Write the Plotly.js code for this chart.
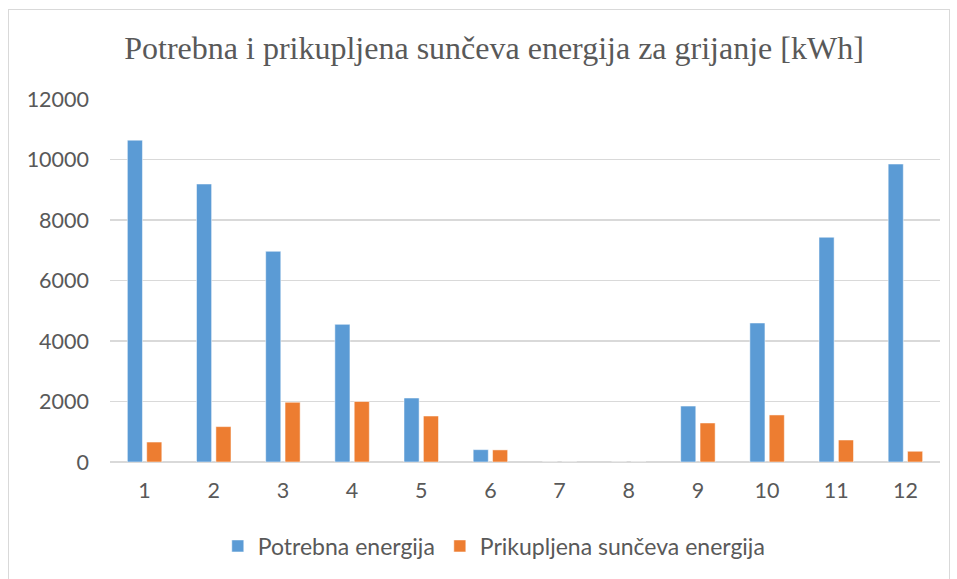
<!DOCTYPE html>
<html>
<head>
<meta charset="utf-8">
<script src="https://cdn.plot.ly/plotly-3.0.1.min.js"></script>
<style>
  html, body { margin: 0; padding: 0; background: #fff; }
  #wrap { position: relative; width: 957px; height: 579px; }
  #frame { position: absolute; left: 8px; top: 9px; width: 942px; height: 580px; border: 1px solid #d9d9d9; box-sizing: border-box; pointer-events: none; }
  #chart { width: 957px; height: 579px; }
</style>
</head>
<body>
<div id="wrap">
  <div id="chart"></div>
  <div id="frame"></div>
</div>
<script>
const months = ['1','2','3','4','5','6','7','8','9','10','11','12'];
const potrebna = [10640, 9190, 6965, 4550, 2115, 408, 0, 0, 1850, 4595, 7430, 9850];
const prikupljena = [660, 1170, 1975, 2000, 1520, 400, 0, 0, 1290, 1555, 727, 355];
const yTicks = [0, 2000, 4000, 6000, 8000, 10000, 12000];

const fontFam = 'Lato, "Liberation Sans", sans-serif';
const txtColor = '#595959';

const data = [
  { type: 'bar', name: 'Potrebna energija', x: months, y: potrebna,
    marker: { color: '#5B9BD5', line: { color: '#ffffff', width: 0.5 } } },
  { type: 'bar', name: 'Prikupljena sunčeva energija', x: months, y: prikupljena,
    marker: { color: '#ED7D31', line: { color: '#ffffff', width: 0.5 } } }
];

const layout = {
  width: 957, height: 579,
  margin: { l: 110, r: 17, t: 99, b: 117 },
  paper_bgcolor: '#ffffff', plot_bgcolor: '#ffffff',
  font: { family: fontFam, size: 21, color: txtColor },
  title: {
    text: 'Potrebna i prikupljena sunčeva energija za grijanje [kWh]',
    font: { family: '"Liberation Serif", "DejaVu Serif", serif', size: 32, color: txtColor },
    xref: 'paper', x: 0.4627, xanchor: 'center',
    yref: 'container', y: 1 - 48/579, yanchor: 'middle'
  },
  barmode: 'group', bargap: 0.44, bargroupgap: 0.22,
  xaxis: {
    type: 'category', showgrid: false, zeroline: false, showline: false,
    ticks: '', ticklabelstandoff: 13,
    tickfont: { family: fontFam, size: 21.5, color: txtColor }
  },
  yaxis: {
    range: [0, 12000], tickvals: yTicks, ticktext: yTicks.map(String),
    showgrid: true, gridcolor: '#d9d9d9', gridwidth: 1.5,
    zeroline: true, zerolinecolor: '#d9d9d9', zerolinewidth: 1.5,
    showline: false, ticks: '', ticklabelstandoff: 20,
    tickfont: { family: fontFam, size: 21.5, color: txtColor }
  },
  showlegend: true,
  legend: {
    orientation: 'h', xref: 'paper', x: 0.463, xanchor: 'center',
    yref: 'container', y: 1 - 546/579, yanchor: 'middle',
    font: { family: fontFam, size: 23, color: txtColor },
    itemwidth: 30, traceorder: 'normal'
  }
};

Plotly.newPlot('chart', data, layout, { displayModeBar: false, staticPlot: true });
</script>
</body>
</html>
